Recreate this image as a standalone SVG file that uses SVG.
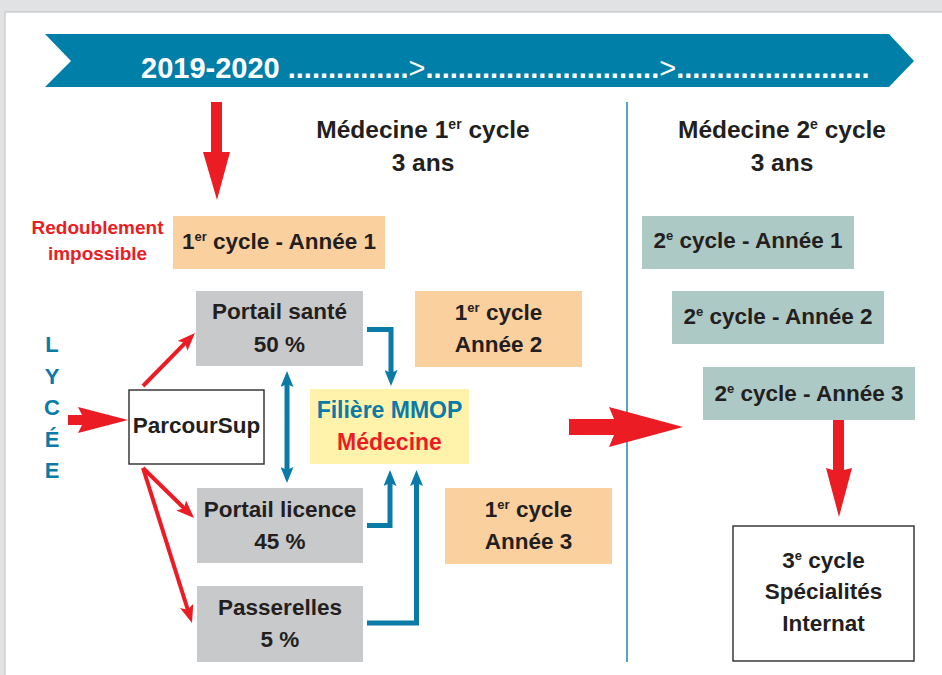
<svg xmlns="http://www.w3.org/2000/svg" width="942" height="675" viewBox="0 0 942 675">
  <style>
    text { font-family: "Liberation Sans", Arial, sans-serif; font-weight: bold; }
    .dark { fill: #231f20; font-size: 22.5px; }
    .head { fill: #231f20; font-size: 24.5px; }
    .teal { fill: #0a7ba6; }
    .red { fill: #ec1c24; }
    .orange { fill: #fbd09f; }
    .grey { fill: #c8c9cb; }
    .sage { fill: #adc9c5; }
    .framed { fill: #ffffff; stroke: #2b2b2b; stroke-width: 1.4; }
    .blue-line { fill: none; stroke: #0a7ba6; stroke-width: 5; stroke-linejoin: miter; }
    .red-line { fill: none; stroke: #ec1c24; stroke-width: 4; }
    .red-fill { fill: #ec1c24; }
  </style>
  <defs>
    <marker id="redHead" markerUnits="userSpaceOnUse" viewBox="0 0 18 14" markerWidth="18" markerHeight="14" refX="8" refY="7" orient="auto">
      <path d="M0,0 L18,7 L0,14 L4,7 z" fill="#ec1c24"/>
    </marker>
    <marker id="blueHead" markerUnits="userSpaceOnUse" viewBox="0 0 16 13" markerWidth="16" markerHeight="13" refX="7" refY="6.5" orient="auto-start-reverse">
      <path d="M0,0 L16,6.5 L0,13 L3,6.5 z" fill="#0a7ba6"/>
    </marker>
  </defs>

  <!-- page frame -->
  <rect x="0" y="0" width="942" height="675" fill="#e1e2e4"/>
  <rect x="5" y="12" width="940" height="670" fill="#ffffff" stroke="#c2c3c5" stroke-width="1.2"/>

  <!-- timeline banner -->
  <g id="banner">
    <polygon points="45,34 889,34 914,61 889,87 45,87 71,61" fill="#0080a8"/>
    <text x="141" y="78" font-size="29" fill="#ffffff">2019-2020 ...............<tspan font-weight="normal">&gt;</tspan>.............................<tspan font-weight="normal">&gt;</tspan>........................</text>
  </g>

  <!-- column headings -->
  <g id="heading-cycle1">
    <text class="head" x="423" y="138" text-anchor="middle">Médecine 1<tspan font-size="14" dy="-9">er</tspan><tspan dy="9"> cycle</tspan></text>
    <text class="head" x="423" y="171" text-anchor="middle">3 ans</text>
  </g>
  <g id="heading-cycle2">
    <text class="head" x="782" y="138" text-anchor="middle">Médecine 2<tspan font-size="14" dy="-9">e</tspan><tspan dy="9"> cycle</tspan></text>
    <text class="head" x="782" y="171" text-anchor="middle">3 ans</text>
  </g>

  <!-- divider between the two cycles -->
  <line x1="627" y1="102" x2="627" y2="662" stroke="#1a8ab0" stroke-width="1.5"/>

  <g id="redoublement">
    <text class="red" x="97.5" y="234" font-size="19" text-anchor="middle">Redoublement</text>
    <text class="red" x="97.5" y="260" font-size="19" text-anchor="middle">impossible</text>
  </g>

  <g id="lycee" class="teal" font-size="22">
    <text class="teal" x="52" y="352" text-anchor="middle">L</text>
    <text class="teal" x="52" y="384" text-anchor="middle">Y</text>
    <text class="teal" x="52" y="415" text-anchor="middle">C</text>
    <text class="teal" x="52" y="447" text-anchor="middle">É</text>
    <text class="teal" x="52" y="478" text-anchor="middle">E</text>
  </g>

  <!-- first cycle -->
  <g id="c1-annee1">
    <rect class="orange" x="173" y="216" width="212" height="53"/>
    <text class="dark" x="279" y="249" text-anchor="middle">1<tspan font-size="13" dy="-8">er</tspan><tspan dy="8"> cycle - Année 1</tspan></text>
  </g>
  <g id="portail-sante">
    <rect class="grey" x="196" y="291" width="167" height="75"/>
    <text class="dark" x="279.5" y="319" text-anchor="middle">Portail santé</text>
    <text class="dark" x="279.5" y="352" text-anchor="middle">50 %</text>
  </g>
  <g id="c1-annee2">
    <rect class="orange" x="415" y="291" width="167" height="76"/>
    <text class="dark" x="498.5" y="320" text-anchor="middle">1<tspan font-size="13" dy="-8">er</tspan><tspan dy="8"> cycle</tspan></text>
    <text class="dark" x="498.5" y="352" text-anchor="middle">Année 2</text>
  </g>
  <g id="parcoursup">
    <rect class="framed" x="129" y="390" width="135" height="74"/>
    <text class="dark" x="196.5" y="433" font-size="21.5" text-anchor="middle">ParcourSup</text>
  </g>
  <g id="filiere-mmop">
    <rect x="310" y="389" width="159" height="75" fill="#fff2ab"/>
    <text class="teal" x="389.5" y="418" font-size="23" text-anchor="middle">Filière MMOP</text>
    <text class="red" x="389.5" y="450" font-size="23" text-anchor="middle">Médecine</text>
  </g>
  <g id="portail-licence">
    <rect class="grey" x="197" y="488" width="166" height="75"/>
    <text class="dark" x="280" y="517" text-anchor="middle">Portail licence</text>
    <text class="dark" x="280" y="549" text-anchor="middle">45 %</text>
  </g>
  <g id="c1-annee3">
    <rect class="orange" x="445" y="488" width="167" height="76"/>
    <text class="dark" x="528.5" y="517" text-anchor="middle">1<tspan font-size="13" dy="-8">er</tspan><tspan dy="8"> cycle</tspan></text>
    <text class="dark" x="528.5" y="549" text-anchor="middle">Année 3</text>
  </g>
  <g id="passerelles">
    <rect class="grey" x="197" y="586" width="166" height="76"/>
    <text class="dark" x="280" y="615" text-anchor="middle">Passerelles</text>
    <text class="dark" x="280" y="647" text-anchor="middle">5 %</text>
  </g>

  <!-- second cycle -->
  <g id="c2-annee1">
    <rect class="sage" x="642" y="216" width="212" height="53"/>
    <text class="dark" x="748" y="248" text-anchor="middle">2<tspan font-size="13" dy="-8">e</tspan><tspan dy="8"> cycle - Année 1</tspan></text>
  </g>
  <g id="c2-annee2">
    <rect class="sage" x="672" y="291" width="212" height="53"/>
    <text class="dark" x="778" y="324" text-anchor="middle">2<tspan font-size="13" dy="-8">e</tspan><tspan dy="8"> cycle - Année 2</tspan></text>
  </g>
  <g id="c2-annee3">
    <rect class="sage" x="703" y="367" width="212" height="53"/>
    <text class="dark" x="809" y="401" text-anchor="middle">2<tspan font-size="13" dy="-8">e</tspan><tspan dy="8"> cycle - Année 3</tspan></text>
  </g>

  <!-- third cycle -->
  <g id="c3">
    <rect class="framed" x="733" y="526" width="181" height="135"/>
    <text class="dark" x="823.5" y="568" text-anchor="middle">3<tspan font-size="13" dy="-8">e</tspan><tspan dy="8"> cycle</tspan></text>
    <text class="dark" x="823.5" y="599" text-anchor="middle">Spécialités</text>
    <text class="dark" x="823.5" y="631" text-anchor="middle">Internat</text>
  </g>

  <!-- connectors -->
  <g id="connectors">
    <!-- block arrows -->
    <polygon class="red-fill" points="211,102 222,102 222,152 230,152 217,200 203,152 211,152"/>
    <polygon class="red-fill" points="68,415 82,415 78,407 128,420 78,433 82,425 68,425"/>
    <polygon class="red-fill" points="569,419 614,419 609,407 683,427 609,447 614,435 569,435"/>
    <polygon class="red-fill" points="833,420 844,420 844,470 852,468 839,517 826,468 833,470"/>

    <!-- ParcourSup towards the portals -->
    <line class="red-line" x1="143" y1="386" x2="188" y2="340.1" marker-end="url(#redHead)"/>
    <line class="red-line" x1="143" y1="468" x2="186.9" y2="511" marker-end="url(#redHead)"/>
    <line class="red-line" x1="143" y1="468" x2="189" y2="613.5" marker-end="url(#redHead)"/>

    <!-- portals towards the MMOP track -->
    <path class="blue-line" d="M367,329.5 H391 V377" marker-end="url(#blueHead)"/>
    <path class="blue-line" d="M367,525.5 H390 V479" marker-end="url(#blueHead)"/>
    <path class="blue-line" d="M367,623 H416.5 V479" marker-end="url(#blueHead)"/>

    <!-- santé / licence exchange -->
    <line class="blue-line" x1="287" y1="380" x2="287" y2="474" stroke-width="3.5" marker-start="url(#blueHead)" marker-end="url(#blueHead)"/>
  </g>
</svg>
